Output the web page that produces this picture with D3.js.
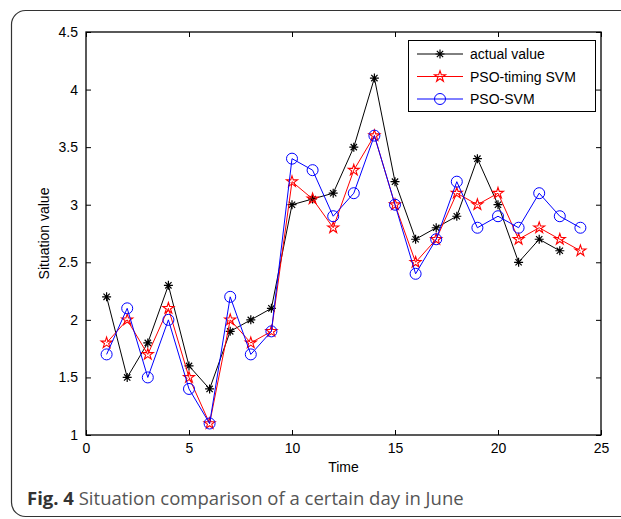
<!DOCTYPE html>
<html>
<head>
<meta charset="utf-8">
<script src="https://cdn.jsdelivr.net/npm/d3@7"></script>
<style>
  body { margin: 0; background: #fff; }
  svg { display: block; }
</style>
</head>
<body>
<script>
const TIME = d3.range(1, 25);
const ACTUAL = [2.2, 1.5, 1.8, 2.3, 1.6, 1.4, 1.9, 2.0, 2.1, 3.0, 3.05, 3.1, 3.5, 4.1, 3.2, 2.7, 2.8, 2.9, 3.4, 3.0, 2.5, 2.7, 2.6];
const PSO_TIMING = [1.8, 2.0, 1.7, 2.1, 1.5, 1.1, 2.0, 1.8, 1.9, 3.2, 3.05, 2.8, 3.3, 3.6, 3.0, 2.5, 2.7, 3.1, 3.0, 3.1, 2.7, 2.8, 2.7, 2.6];
const PSO_SVM = [1.7, 2.1, 1.5, 2.0, 1.4, 1.1, 2.2, 1.7, 1.9, 3.4, 3.3, 2.9, 3.1, 3.6, 3.0, 2.4, 2.7, 3.2, 2.8, 2.9, 2.8, 3.1, 2.9, 2.8];
const X_TICKS = [0, 5, 10, 15, 20, 25];
const Y_TICKS = [1, 1.5, 2, 2.5, 3, 3.5, 4, 4.5];
const SERIES = [
  { name: "actual value", values: ACTUAL, color: "#000", marker: "star" },
  { name: "PSO-timing SVM", values: PSO_TIMING, color: "#ff0000", marker: "pentagram" },
  { name: "PSO-SVM", values: PSO_SVM, color: "#0000ff", marker: "circle" },
];

const W = 621, H = 519;
const M = { left: 86, right: 601, top: 32, bottom: 435 };
const FONT = "'Liberation Sans', Arial, sans-serif";

const svg = d3.select("body").append("svg").attr("width", W).attr("height", H);

// outer frame
svg.append("rect")
  .attr("x", 11.5).attr("y", 10.5)
  .attr("width", 630).attr("height", 506)
  .attr("rx", 14)
  .attr("fill", "none")
  .attr("stroke", "#333")
  .attr("stroke-width", 1.2);

const x = d3.scaleLinear().domain([0, 25]).range([M.left, M.right]);
const y = d3.scaleLinear().domain([1, 4.5]).range([M.bottom, M.top]);

const g = svg.append("g");

// axes box
g.append("rect")
  .attr("x", M.left).attr("y", M.top)
  .attr("width", M.right - M.left).attr("height", M.bottom - M.top)
  .attr("fill", "none").attr("stroke", "#000").attr("stroke-width", 1.3);

const TL = 5;
g.append("g").attr("transform", `translate(0,${M.bottom})`)
  .call(d3.axisBottom(x).tickValues(X_TICKS).tickSize(-TL).tickPadding(8).tickFormat(d3.format("d")));
g.append("g").attr("transform", `translate(0,${M.top})`)
  .call(d3.axisTop(x).tickValues(X_TICKS).tickSize(-TL).tickFormat(""));
g.append("g").attr("transform", `translate(${M.left},0)`)
  .call(d3.axisLeft(y).tickValues(Y_TICKS).tickSize(-TL).tickPadding(8).tickFormat(d => String(d)));
g.append("g").attr("transform", `translate(${M.right},0)`)
  .call(d3.axisRight(y).tickValues(Y_TICKS).tickSize(-TL).tickFormat(""));

g.selectAll(".domain").remove();
g.selectAll(".tick line").attr("stroke", "#000").attr("stroke-width", 1);
g.selectAll(".tick text").attr("font-family", FONT).attr("font-size", 14).attr("fill", "#000");

// axis labels
svg.append("text")
  .attr("x", (M.left + M.right) / 2).attr("y", 472)
  .attr("text-anchor", "middle")
  .attr("font-family", FONT).attr("font-size", 14)
  .text("Time");
svg.append("text")
  .attr("transform", `translate(49,${(M.top + M.bottom) / 2}) rotate(-90)`)
  .attr("text-anchor", "middle")
  .attr("font-family", FONT).attr("font-size", 14)
  .text("Situation value");

const star = d3.symbol().type(d3.symbolStar).size(38);
function drawMarker(sel, type, color) {
  if (type === "circle") {
    sel.append("circle").attr("r", 5.5)
      .attr("fill", "none").attr("stroke", color).attr("stroke-width", 1);
  } else if (type === "pentagram") {
    sel.append("path").attr("d", star)
      .attr("fill", "none").attr("stroke", color).attr("stroke-width", 1.1);
  } else {
    const r = 4.5;
    sel.append("path")
      .attr("d", `M0,${-r}V${r}M${-r},0H${r}M${-r * 0.7},${-r * 0.7}L${r * 0.7},${r * 0.7}M${-r * 0.7},${r * 0.7}L${r * 0.7},${-r * 0.7}`)
      .attr("stroke", color).attr("stroke-width", 1.2);
  }
}

const line = d3.line().x((d, i) => x(TIME[i])).y(d => y(d));

SERIES.forEach(s => {
  g.append("path")
    .attr("d", line(s.values))
    .attr("fill", "none")
    .attr("stroke", s.color)
    .attr("stroke-width", 1);
  g.selectAll(null)
    .data(s.values)
    .enter()
    .append("g")
    .attr("transform", (d, i) => `translate(${x(TIME[i])},${y(d)})`)
    .each(function () { drawMarker(d3.select(this), s.marker, s.color); });
});

// legend
const lg = svg.append("g").attr("transform", "translate(408,40)");
lg.append("rect").attr("x", 0.5).attr("y", 0.5).attr("width", 187).attr("height", 71)
  .attr("fill", "#fff").attr("stroke", "#000").attr("stroke-width", 1);
SERIES.forEach((s, i) => {
  const yy = 14 + i * 22.5;
  lg.append("line").attr("x1", 9).attr("x2", 55).attr("y1", yy).attr("y2", yy)
    .attr("stroke", s.color).attr("stroke-width", 1);
  const m = lg.append("g").attr("transform", `translate(32,${yy})`);
  drawMarker(m, s.marker, s.color);
  lg.append("text").attr("x", 62).attr("y", yy + 5)
    .attr("font-family", FONT).attr("font-size", 14)
    .text(s.name);
});

// caption
const cap = svg.append("text")
  .attr("x", 27).attr("y", 505)
  .attr("font-family", "'Open Sans', 'Noto Sans', sans-serif")
  .attr("font-size", 18.5)
  .attr("fill", "#555");
cap.append("tspan").attr("font-weight", "bold").attr("fill", "#333").text("Fig. 4");
cap.append("tspan").text(" Situation comparison of a certain day in June");
</script>
</body>
</html>
